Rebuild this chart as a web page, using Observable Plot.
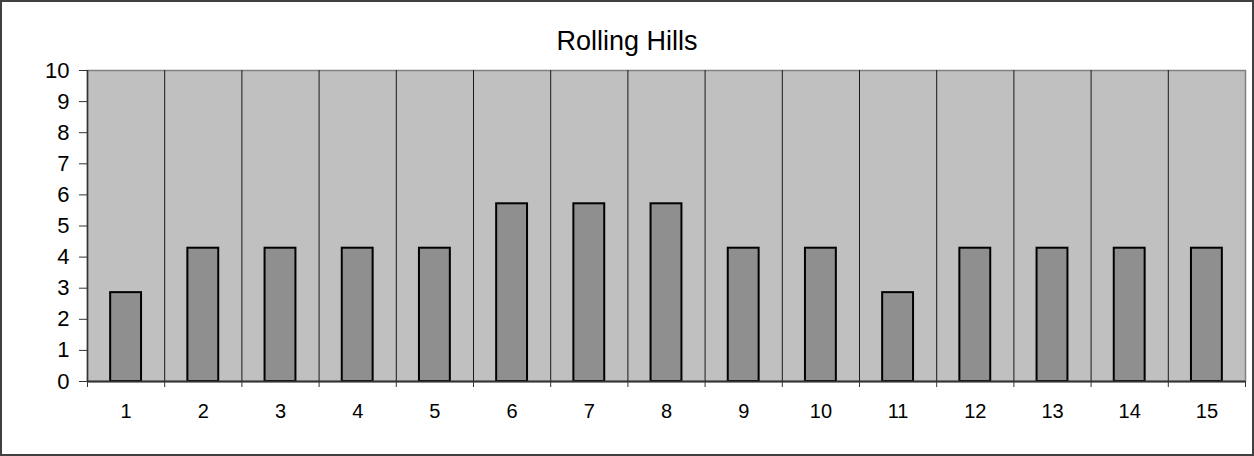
<!DOCTYPE html>
<html>
<head>
<meta charset="utf-8">
<script src="https://cdn.jsdelivr.net/npm/d3@7"></script>
<script src="https://cdn.jsdelivr.net/npm/@observablehq/plot@0.6"></script>
<style>
  html, body { margin: 0; padding: 0; background: #fff; }
  #wrap { position: relative; width: 1254px; height: 456px; font-family: "Liberation Sans", Arial, sans-serif; }
  #wrap svg { position: absolute; left: 0; top: 0; }
  #title { position: absolute; left: 0; width: 1254px; top: 26px; text-align: center; font-size: 27px; color: #000; line-height: 30px; }
  #border { position: absolute; left: 0; top: 0; width: 1254px; height: 456px; box-sizing: border-box; border: 2px solid #404040; pointer-events: none; }
</style>
</head>
<body>
<div id="wrap">
  <div id="border"></div>
</div>
<script>
const title = "Rolling Hills";
const categories = [1, 2, 3, 4, 5, 6, 7, 8, 9, 10, 11, 12, 13, 14, 15];
const values = [2.857, 4.286, 4.286, 4.286, 4.286, 5.714, 5.714, 5.714, 4.286, 4.286, 2.857, 4.286, 4.286, 4.286, 4.286];
const yTicks = [0, 1, 2, 3, 4, 5, 6, 7, 8, 9, 10];

const data = categories.map((c, i) => ({cat: c, value: values[i]}));
const half = 0.5;
const barHalf = 0.2; // bar occupies 40% of each category slot
const boundaries = [categories[0] - half, ...categories.map(c => c + half)];
const innerBoundaries = boundaries.slice(1, -1);

const chart = Plot.plot({
  width: 1254,
  height: 456,
  marginLeft: 87,
  marginRight: 9,
  marginTop: 70,
  marginBottom: 75,
  style: {fontFamily: "'Liberation Sans', Arial, sans-serif", background: "transparent", color: "#000"},
  x: {type: "linear", domain: [categories[0] - half, categories[categories.length - 1] + half]},
  y: {domain: [0, 10]},
  marks: [
    Plot.frame({fill: "#C0C0C0", stroke: "#808080", strokeWidth: 1.5}),
    Plot.ruleX(innerBoundaries, {stroke: "#1a1a1a", strokeWidth: 1}),
    Plot.rectY(data, {x1: d => d.cat - barHalf, x2: d => d.cat + barHalf, y1: 0, y2: "value", fill: "#8F8F8F", stroke: "#000", strokeWidth: 2}),
    Plot.ruleX([boundaries[0]], {stroke: "#333", strokeWidth: 1.5}),
    Plot.ruleY([0], {stroke: "#333", strokeWidth: 2}),
    Plot.axisY(yTicks, {tickSize: 8, tickPadding: 10, fontSize: 22, stroke: "#333", label: null, tickFormat: d => String(d)}),
    Plot.axisX(categories, {tickSize: 0, tickPadding: 22, fontSize: 20, label: null, tickFormat: d => String(d)}),
    Plot.axisX(boundaries, {tickSize: 6, stroke: "#333", tickFormat: () => "", label: null})
  ]
});

const wrap = document.getElementById("wrap");
wrap.insertBefore(chart, wrap.firstChild);
const t = document.createElement("div");
t.id = "title";
t.textContent = title;
wrap.appendChild(t);
</script>
</body>
</html>
